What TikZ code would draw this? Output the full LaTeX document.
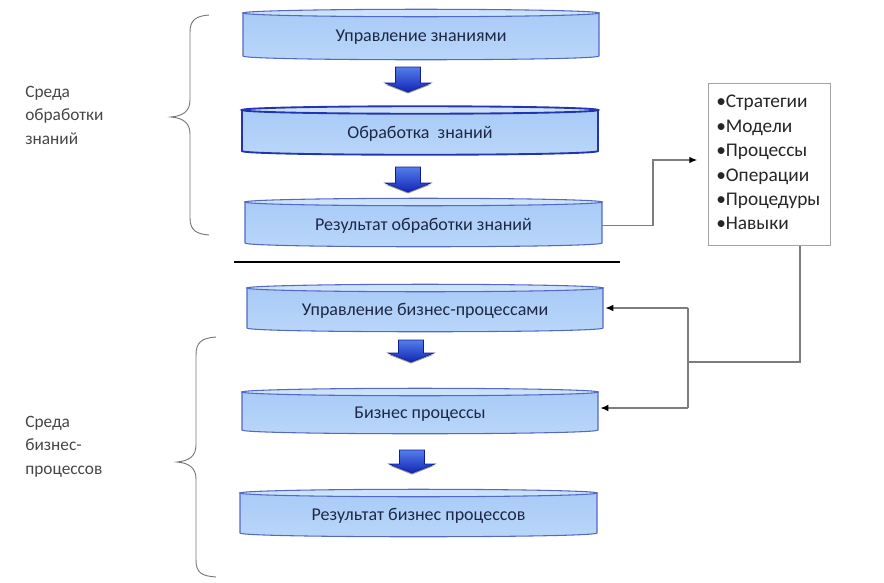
\documentclass[tikz,border=0pt]{standalone}
\usepackage{fontspec}
\setmainfont{Carlito}
\usetikzlibrary{arrows.meta}

\definecolor{cylfillA}{RGB}{168,203,247}
\definecolor{cylfillB}{RGB}{186,214,249}
\definecolor{cyltop}{RGB}{204,226,251}
\definecolor{cylline}{RGB}{84,104,196}
\definecolor{cyldark}{RGB}{36,52,176}
\definecolor{cyltext}{RGB}{30,40,70}
\definecolor{arrowA}{RGB}{84,126,234}
\definecolor{arrowB}{RGB}{18,38,182}
\definecolor{linkgray}{RGB}{125,125,125}
\definecolor{bracegray}{RGB}{120,120,120}
\definecolor{labelgray}{RGB}{70,70,70}

\tikzset{
  cylbody/.style={draw=cylline, line width=0.8pt, top color=cylfillA, bottom color=cylfillB},
  cyllid/.style={draw=cylline, line width=0.8pt, fill=cyltop},
  cyllabel/.style={font=\fontsize{13.5}{16}\selectfont, text=cyltext, inner sep=0pt},
  blockarr/.style={top color=arrowA, bottom color=arrowB, draw=arrowB!80!black, line width=0.4pt},
  link/.style={draw=linkgray, line width=1.1pt, -{Latex[length=6pt,width=5pt,color=black]}},
  linkplain/.style={draw=linkgray, line width=1.1pt},
  bracepath/.style={draw=bracegray, line width=0.7pt},
  sidelabel/.style={font=\fontsize{13}{17.5}\selectfont, text=labelgray, align=left, anchor=north west, inner sep=0pt},
  listbox/.style={draw=linkgray!70, line width=0.6pt, fill=white}
}

% cylinder: name, left x, right x, lid centre y, bottom corner y, text, border style
\newcommand{\drumshape}[7]{%
  \path[cylbody,#7] (#2,#4) -- (#2,#5)
     .. controls (#2,#5+5) and (#3,#5+5) .. (#3,#5) -- (#3,#4) -- cycle;
  \path[cyllid,#7] ({(#2+#3)/2},#4) ellipse [x radius={(#3-#2)*0.375pt}, y radius=2.8pt];
  \node[cyllabel, minimum width={(#3-#2)*0.75pt}, minimum height=20pt]
     (#1) at ({(#2+#3)/2},{(#4+#5)/2+3}) {#6};
}

% broad block arrow pointing down: centre x, top y, bottom y
\newcommand{\downblock}[3]{%
  \fill[black!70, opacity=0.6] (#1-23,#3-9+1.5) -- (#1+23,#3-9+1.5) -- (#1,#3+1.5) -- cycle;
  \path[blockarr] (#1-12.5,#2) -- (#1+12.5,#2) -- (#1+12.5,#3-9) -- (#1+23,#3-9)
     -- (#1,#3) -- (#1-23,#3-9) -- (#1-12.5,#3-9) -- cycle;
}

\begin{document}
\begin{tikzpicture}[x=0.75pt, y=-0.75pt]
\useasboundingbox (0,0) rectangle (884,582);

% knowledge processing layer
\drumshape{km}{243}{599}{13}{56}{Управление знаниями}{}
\drumshape{kp}{242}{598}{110}{151}{Обработка\ \ знаний}{draw=cyldark, line width=1.4pt}
\drumshape{kr}{245}{602}{202}{243}{Результат обработки знаний}{}

\downblock{408}{67}{92}
\downblock{408}{167}{192}

% separator
\draw[line width=2pt, black] (234,262) -- (620,262);

% business process layer
\drumshape{bm}{247}{603}{288}{328}{Управление бизнес-процессами}{}
\drumshape{bp}{242}{598}{392}{430}{Бизнес процессы}{}
\drumshape{br}{240}{597}{493}{533}{Результат бизнес процессов}{}

\downblock{411}{340}{362}
\downblock{412}{450}{473}

% list of knowledge products
\node[listbox, minimum width=91.5pt, minimum height=121.5pt, anchor=north west] (list) at (708,83) {};
\node[anchor=north west, inner sep=0pt, align=left,
      font=\fontsize{14.5}{18.3}\selectfont, text=black!85] (items) at (716,95)
  {•Стратегии\\•Модели\\•Процессы\\•Операции\\•Процедуры\\•Навыки};

% links
\coordinate (up) at (653,160);
\draw[link, shorten >=8pt] (kr.east) -| (up) -- (up -| list.west);
\coordinate (down) at (800,362);
\coordinate (split) at (688,362);
\draw[linkplain] (down |- list.south) -- (down) -- (split);
\draw[linkplain] (688,308) -- (688,408);
\draw[link, shorten >=1.5pt] (688,308) -- (bm.east |- 0,308);
\draw[link, shorten >=1.5pt] (688,408) -- (bp.east |- 0,408);

% braces
\draw[bracepath] (209,15) .. controls (196,16) and (190,20) .. (190,32)
  -- (190,100) .. controls (190,112) and (182,116) .. (171,117)
  .. controls (182,118) and (190,122) .. (190,134)
  -- (190,218) .. controls (190,230) and (196,234) .. (209,235);
\draw[bracepath] (216,337) .. controls (202,338) and (196,342) .. (196,355)
  -- (196,445) .. controls (196,457) and (188,461) .. (177,462)
  .. controls (188,463) and (196,467) .. (196,479)
  -- (196,560) .. controls (196,573) and (202,576) .. (216,577);

% side labels
\node[sidelabel] (envk) at (25,86) {Среда\\обработки\\знаний};
\node[sidelabel] (envb) at (25,416) {Среда\\бизнес-\\процессов};
\end{tikzpicture}
\end{document}
